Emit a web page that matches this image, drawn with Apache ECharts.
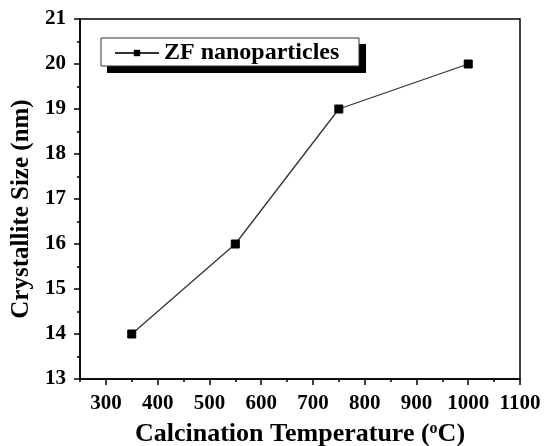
<!DOCTYPE html>
<html>
<head>
<meta charset="utf-8">
<script src="https://cdn.jsdelivr.net/npm/echarts@6/dist/echarts.min.js"></script>
<style>html,body{margin:0;padding:0;background:#fff}#c{width:544px;height:446px}</style>
</head>
<body>
<div id="c"></div>
<script>
var temperatures = [350, 550, 750, 1000];
var sizes = [14, 16, 19, 20];
var xMajorTicks = [300, 400, 500, 600, 700, 800, 900, 1000, 1100];
var xMinorTicks = [250, 350, 450, 550, 650, 750, 850, 950, 1050];
var seriesName = 'ZF nanoparticles';

var font = '"Liberation Serif", "Times New Roman", serif';
var chart = echarts.init(document.getElementById('c'), null, {renderer: 'canvas'});
var L = 80, T = 19, R = 520, B = 379;
function plain(v) { return String(v); }
chart.setOption({
  animation: false,
  backgroundColor: '#fff',
  grid: {left: L, top: T, right: 544 - R, bottom: 446 - B, outerBoundsMode: 'none', containLabel: false, show: true, borderColor: '#000', borderWidth: 1.5, backgroundColor: 'transparent'},
  graphic: [
    {type: 'rect', shape: {x: 107, y: 44, width: 259, height: 29}, style: {fill: '#000'}, z: 100},
    {type: 'rect', shape: {x: 101, y: 38, width: 258, height: 28}, style: {fill: '#fff', stroke: '#333', lineWidth: 1}, z: 101}
  ],
  legend: {
    left: 114, top: 41, z: 110, padding: 0,
    itemWidth: 44, itemHeight: 8,
    data: [seriesName],
    textStyle: {fontFamily: font, fontWeight: 'bold', fontSize: 24, color: '#000'}
  },
  xAxis: [{
    type: 'value', min: 250, max: 1100, position: 'bottom',
    axisLine: {show: true, onZero: false, lineStyle: {color: '#000', width: 1.5}},
    axisTick: {show: true, inside: false, length: 6, customValues: xMajorTicks, lineStyle: {color: '#000', width: 1.5}},
    axisLabel: {customValues: xMajorTicks, formatter: plain, margin: 14, fontFamily: font, fontWeight: 'bold', fontSize: 21, color: '#000'},
    splitLine: {show: false},
    name: 'Calcination Temperature ({sup|o}C)', nameLocation: 'middle', nameGap: 42,
    nameTextStyle: {fontFamily: font, fontWeight: 'bold', fontSize: 26, color: '#000',
      rich: {sup: {fontFamily: font, fontWeight: 'bold', fontSize: 16, color: '#000', verticalAlign: 'bottom', padding: [0, 0, 11, 0]}}}
  }, {
    type: 'value', min: 250, max: 1100, position: 'bottom',
    axisLine: {show: false, onZero: false},
    axisTick: {show: true, length: 3, customValues: xMinorTicks, lineStyle: {color: '#000', width: 1.5}},
    axisLabel: {show: false},
    splitLine: {show: false}
  }],
  yAxis: {
    type: 'value', min: 13, max: 21, interval: 1,
    axisLine: {show: true, onZero: false, lineStyle: {color: '#000', width: 1.5}},
    axisTick: {show: true, length: 6, lineStyle: {color: '#000', width: 1.5}},
    minorTick: {show: true, splitNumber: 2, length: 3, lineStyle: {color: '#000', width: 1.5}},
    axisLabel: {margin: 14, formatter: plain, fontFamily: font, fontWeight: 'bold', fontSize: 21, color: '#000'},
    splitLine: {show: false},
    name: 'Crystallite Size (nm)', nameLocation: 'middle', nameGap: 46,
    nameTextStyle: {fontFamily: font, fontWeight: 'bold', fontSize: 25, color: '#000', padding: [0, 20, 0, 0]}
  },
  series: [{
    name: seriesName, type: 'line', data: temperatures.map(function (t, i) { return [t, sizes[i]]; }),
    symbol: 'rect', symbolSize: 8, showSymbol: true,
    lineStyle: {color: '#333', width: 1.3},
    itemStyle: {color: '#000', borderColor: '#000'}
  }]
});
</script>
</body>
</html>
